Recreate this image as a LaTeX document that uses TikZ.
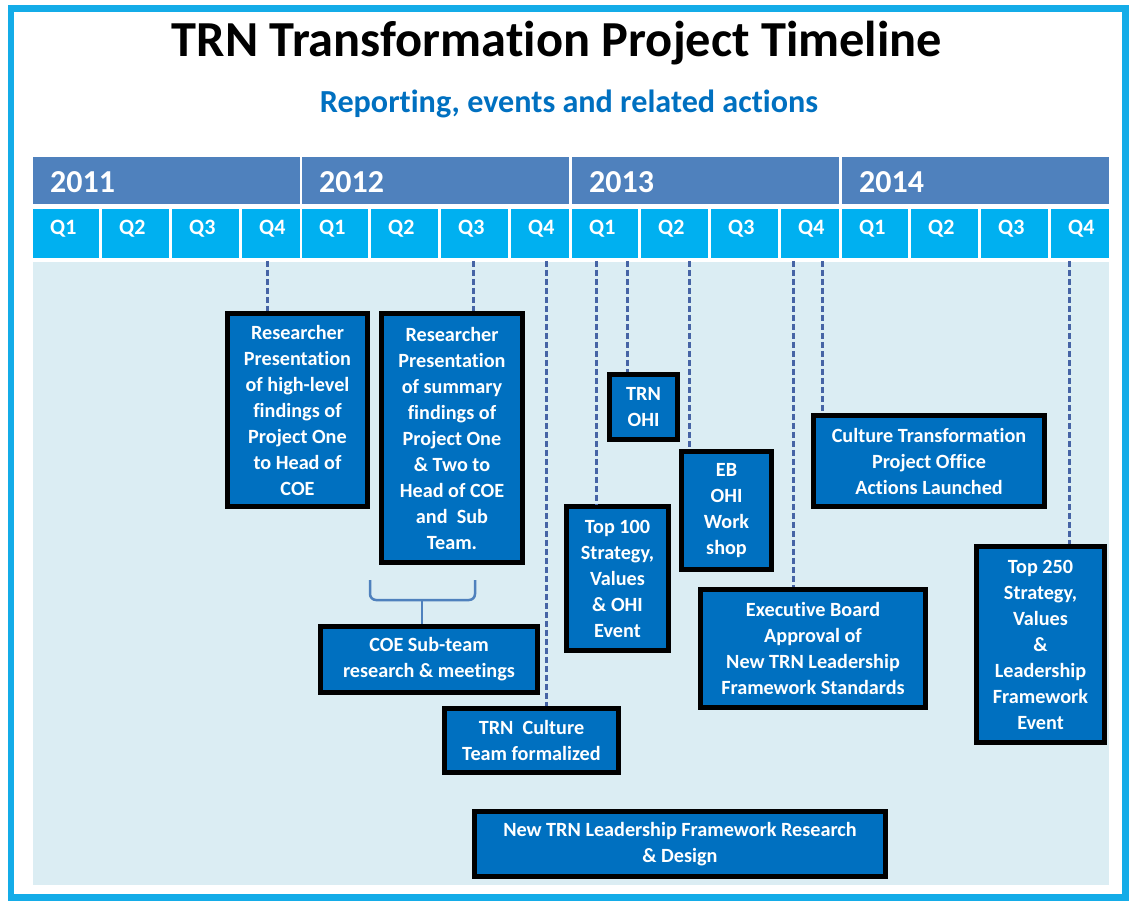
\documentclass[tikz,border=0pt]{standalone}
\usepackage{fontspec}
\setmainfont{Carlito}[Ligatures=NoCommon]
\definecolor{framecyan}{RGB}{20,172,232}
\definecolor{yearblue}{RGB}{79,129,189}
\definecolor{qcyan}{RGB}{0,176,240}
\definecolor{panelblue}{RGB}{219,237,243}
\definecolor{boxblue}{RGB}{0,112,192}
\definecolor{tickblue}{RGB}{70,100,165}
\def\boxfont{\fontsize{11.5}{14.8}\selectfont\bfseries}
\def\qfont{\fontsize{12.5}{15}\selectfont\bfseries}
\def\yrfont{\fontsize{18.2}{22}\selectfont\bfseries}

\begin{document}
\begin{tikzpicture}[x=0.02cm,y=-0.02cm,
	event/.style={draw=black,line width=0.1cm,fill=boxblue,text=white,align=center,inner sep=0pt,font=\boxfont},
	tick/.style={tickblue,line width=0.06cm,dash pattern=on 0.12cm off 0.06cm},
	brace/.style={yearblue,line width=0.05cm,rounded corners=0.12cm}]
	\useasboundingbox (0,0) rectangle (1131,901);
	\fill[panelblue] (33,262) rectangle (1109,885);
	\draw[framecyan,line width=0.14cm] (11,9) rectangle (1125,897);
	\node[font=\fontsize{28.7}{34}\selectfont\bfseries,anchor=base] (title) at (557,57) {TRN Transformation Project Timeline};
	\node[font=\fontsize{18.3}{22}\selectfont\bfseries,text=boxblue,anchor=base] (subtitle) at (569,113) {Reporting, events and related actions};
	\foreach \yr/\xo in {2011/33,2012/302,2013/572,2014/842}{
		\fill[yearblue] (\xo,157) rectangle ++(267,47);
		\node[anchor=base west,text=white,font=\yrfont] (y\yr) at (\xo+11,193) {\yr};
		\foreach \q/\a/\b in {1/0/66,2/69/136,3/139/206,4/209/267}{
			\fill[qcyan] (\xo+\a,209) rectangle (\xo+\b,258);
			\node[anchor=base west,text=white,font=\qfont] (q\yr-\q) at (\xo+\a+11,235) {Q\q};
		}
	}
	\node[event,minimum width=2.8cm,minimum height=3.86cm] (hilevel) at (297.5,410) {Researcher\\Presentation\\of high-level\\findings of\\Project One\\to Head of\\COE};
	\node[event,minimum width=2.82cm,minimum height=4.98cm] (summary) at (452,438) {Researcher\\Presentation\\of summary\\findings of\\Project One\\\& Two to\\Head of COE\\and~ Sub\\Team.};
	\node[event,minimum width=4.34cm,minimum height=1.32cm] (subteam) at (429,659.5) {COE Sub-team\\research \& meetings};
	\node[event,minimum width=3.48cm,minimum height=1.28cm] (cteam) at (531.5,740.5) {TRN~ Culture\\Team formalized};
	\node[event,minimum width=8.22cm,minimum height=1.3cm] (lfrd) at (680,844) {New TRN Leadership Framework Research\\\& Design};
	\node[event,minimum width=1.36cm,minimum height=1.3cm] (trnohi) at (643.5,407) {TRN\\OHI};
	\node[event,minimum width=2.04cm,minimum height=2.88cm] (top100) at (617.5,578.5) {Top 100\\Strategy,\\Values\\\& OHI\\Event};
	\node[event,minimum width=1.8cm,minimum height=2.36cm] (ebohi) at (726.5,510.5) {EB\\OHI\\Work\\shop};
	\node[event,minimum width=4.5cm,minimum height=2.36cm] (exboard) at (813,648.5) {Executive Board\\Approval of\\New TRN Leadership\\Framework Standards};
	\node[event,minimum width=4.62cm,minimum height=1.82cm] (ctpo) at (929,461) {Culture Transformation\\Project Office\\Actions Launched};
	\node[event,minimum width=2.56cm,minimum height=3.92cm] (top250) at (1040.5,644.5) {Top 250\\Strategy,\\Values\\\&\\Leadership\\Framework\\Event};
	\foreach \x/\n in {267/hilevel,473/summary,546/cteam,596/top100,627/trnohi,689/ebohi,793/exboard,822/ctpo,1069/top250}
		\draw[tick] (\x,261) coordinate (t-\n) -- (t-\n |- \n.north);
	\draw[brace] (370,580) |- (475,600) -- (475,580);
	\draw[brace] (422,600) coordinate (bracetip) -- (bracetip |- subteam.north);
\end{tikzpicture}
\end{document}
